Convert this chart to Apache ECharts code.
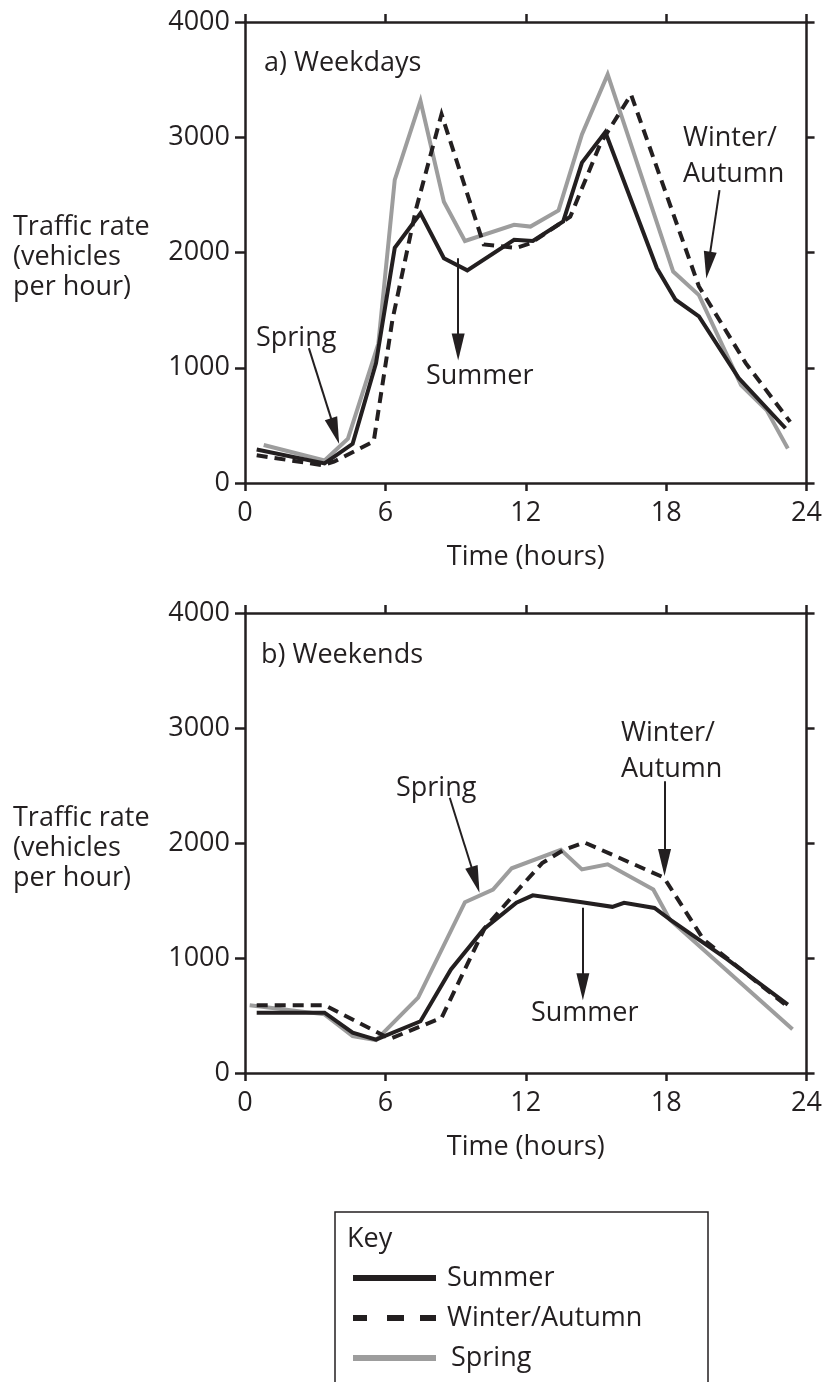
<!DOCTYPE html>
<html>
<head>
<meta charset="utf-8">
<script src="https://cdn.jsdelivr.net/npm/echarts@6/dist/echarts.min.js"></script>
<style>
html,body{margin:0;padding:0;background:#fff;}
#c{width:825px;height:1382px;}
</style>
</head>
<body>
<div id="c"></div>
<script>
// ---- data: [hour, vehicles per hour] ----
var weekdaySummer = [[0.5,290],[3.4,170],[4.6,340],[5.6,1040],[6.4,2040],[7.5,2340],[8.5,1950],[9.5,1845],[11.5,2110],[12.3,2100],[13.6,2270],[14.4,2780],[15.4,3045],[17.6,1865],[18.4,1590],[19.4,1445],[21.1,910],[23.1,475]];
var weekdayWinter = [[0.5,240],[3.3,155],[3.8,185],[5.5,360],[6.3,1415],[7.3,2370],[8.4,3200],[10.2,2070],[11.6,2040],[12.2,2080],[13.9,2310],[15.2,2950],[16.5,3370],[19.4,1705],[21.4,1040],[23.3,530]];
var weekdaySpring = [[0.8,330],[3.4,195],[4.4,385],[5.7,1210],[6.4,2630],[7.5,3315],[8.5,2440],[9.4,2100],[11.5,2240],[12.2,2225],[13.4,2365],[14.4,3025],[15.5,3545],[18.3,1835],[19.4,1630],[21.2,850],[22.3,630],[23.2,300]];

var weekendSummer = [[0.5,525],[3.4,525],[4.6,350],[5.6,290],[7.5,450],[8.8,900],[10.2,1250],[11.6,1480],[12.3,1545],[14.4,1485],[15.7,1445],[16.2,1480],[17.5,1435],[18.2,1330],[20.6,990],[23.2,595]];
var weekendWinter = [[0.5,590],[3.4,590],[6.2,297],[8.4,480],[10.25,1262],[11.7,1600],[12.7,1825],[13.6,1937],[14.5,2005],[17.9,1700],[19.6,1160],[23.3,560]];
var weekendSpring = [[0.2,590],[3.4,510],[4.6,320],[5.6,285],[7.4,655],[9.4,1485],[10.6,1595],[11.4,1780],[13.5,1940],[14.4,1770],[15.5,1815],[17.45,1595],[18.15,1335],[23.4,380]];

var hourTicks = [0, 6, 12, 18, 24];
var rateTicks = [0, 1000, 2000, 3000, 4000];
var seriesNames = ['Summer', 'Winter/Autumn', 'Spring'];

// annotation arrows in data coords: [from, to]
var arrowsTop = [[[2.73,1170],[3.85,450]], [[9.11,1950],[9.11,1180]], [[20.28,2541],[19.8,1890]]];
var arrowsBottom = [[[8.75,2393],[9.85,1680]], [[17.93,2537],[17.93,1830]], [[14.44,1437],[14.44,750]]];

var INK = '#231f20', GREY = '#9d9d9d';
var FONT = 'Open Sans';
var FS = 27;

function plain(v) { return String(v); }

function xAxes(gi) {
  return [{
    type: 'value', gridIndex: gi, min: hourTicks[0], max: hourTicks[hourTicks.length-1], interval: 6,
    position: 'bottom',
    axisLine: {onZero: false, lineStyle: {color: INK, width: 2.5}},
    axisTick: {length: 8, lineStyle: {color: INK, width: 2.5}},
    axisLabel: {color: INK, fontFamily: FONT, fontSize: FS, margin: 17, formatter: plain},
    splitLine: {show: false},
    name: 'Time (hours)', nameLocation: 'middle', nameGap: 61,
    nameTextStyle: {color: INK, fontFamily: FONT, fontSize: FS}
  }, {
    type: 'value', gridIndex: gi, min: 0, max: 24, interval: 6, position: 'top',
    axisLine: {show: true, onZero: false, lineStyle: {color: INK, width: 2.5}},
    axisTick: {show: true, length: 8, lineStyle: {color: INK, width: 2.5}},
    axisLabel: {show: false}, splitLine: {show: false}
  }];
}
function yAxes(gi) {
  return [{
    type: 'value', gridIndex: gi, min: rateTicks[0], max: rateTicks[rateTicks.length-1], interval: 1000,
    position: 'left',
    axisLine: {show: true, onZero: false, lineStyle: {color: INK, width: 2.5}},
    axisTick: {show: true, length: 10, lineStyle: {color: INK, width: 2.5}},
    axisLabel: {color: INK, fontFamily: FONT, fontSize: FS, margin: 15, formatter: plain},
    splitLine: {show: false}
  }, {
    type: 'value', gridIndex: gi, min: 0, max: 4000, interval: 1000, position: 'right',
    axisLine: {show: true, onZero: false, lineStyle: {color: INK, width: 2.5}},
    axisTick: {show: true, length: 8, lineStyle: {color: INK, width: 2.5}},
    axisLabel: {show: false}, splitLine: {show: false}
  }];
}

function lineSeries(name, data, axisBase, style, z) {
  return {
    name: name, type: 'line', data: data, xAxisIndex: axisBase, yAxisIndex: axisBase,
    showSymbol: false, symbol: 'none', z: z, silent: true, animation: false,
    itemStyle: {color: style.color},
    lineStyle: style
  };
}
var styleSummer = {color: INK, width: 4, type: 'solid', join: 'miter'};
var styleWinter = {color: INK, width: 4, type: [11, 7], join: 'miter'};
var styleSpring = {color: GREY, width: 4, type: 'solid', join: 'miter'};

function arrowMarkLine(arrows) {
  return {
    silent: true, animation: false,
    symbol: ['none', 'triangle'],
    symbolSize: [1, 1],
    label: {show: false},
    lineStyle: {color: INK, width: 2, type: 'solid'},
    data: arrows.map(function (a) {
      return [{coord: a[0], symbol: 'none'}, {coord: a[1], symbol: 'triangle', symbolSize: [13, 27]}];
    })
  };
}

var series = [
  lineSeries(seriesNames[2], weekdaySpring, 0, styleSpring, 2),
  lineSeries(seriesNames[1], weekdayWinter, 0, styleWinter, 3),
  lineSeries(seriesNames[0], weekdaySummer, 0, styleSummer, 4),
  lineSeries(seriesNames[2], weekendSpring, 2, styleSpring, 2),
  lineSeries(seriesNames[1], weekendWinter, 2, styleWinter, 3),
  lineSeries(seriesNames[0], weekendSummer, 2, styleSummer, 4)
];
series[2].markLine = arrowMarkLine(arrowsTop);
series[5].markLine = arrowMarkLine(arrowsBottom);

function txt(t, x, y) {
  return {type: 'text', left: x, top: y - 13, silent: true,
    style: {text: t, fill: INK, font: FS + 'px "' + FONT + '"'}};
}
function ytitle(y0) {
  return {type: 'text', left: 13, top: y0, silent: true,
    style: {text: 'Traffic rate\n(vehicles\nper hour)', fill: INK, font: FS + 'px "' + FONT + '"', lineHeight: 30}};
}

var solidIcon = 'path://M0,0H83V6H0Z';
var dashIcon = 'path://M0,0H14V6H0Z M34,0H51V6H34Z M67,0H83V6H67Z';

var chart = echarts.init(document.getElementById('c'), null, {renderer: 'canvas'});
chart.setOption({
  backgroundColor: '#fff',
  animation: false,
  grid: [
    {left: 245, top: 22, width: 562, height: 461},
    {left: 245, top: 613, width: 562, height: 460}
  ],
  xAxis: xAxes(0).concat(xAxes(1)),
  yAxis: yAxes(0).concat(yAxes(1)),
  legend: {
    show: true, orient: 'vertical', left: 348, top: 1258,
    itemWidth: 83, itemHeight: 6, itemGap: 10,
    textStyle: {color: INK, fontFamily: FONT, fontSize: FS, lineHeight: 30, padding: [0, 0, 0, 6]},
    data: [
      {name: seriesNames[0], icon: solidIcon, itemStyle: {color: INK}},
      {name: seriesNames[1], icon: dashIcon, itemStyle: {color: INK}},
      {name: seriesNames[2], icon: solidIcon, itemStyle: {color: GREY}, textStyle: {padding: [0, 0, 0, 10]}}
    ],
    selectedMode: false
  },
  graphic: [
    ytitle(212), ytitle(803),
    txt('a) Weekdays', 264, 63),
    txt('Spring', 256, 338),
    txt('Summer', 426, 376),
    txt('Winter/', 683, 138),
    txt('Autumn', 683, 174),
    txt('b) Weekends', 261, 655),
    txt('Spring', 396, 788),
    txt('Winter/', 621, 733),
    txt('Autumn', 621, 769),
    txt('Summer', 531, 1013),
    {type: 'rect', silent: true, shape: {x: 335, y: 1212, width: 373, height: 220},
      style: {fill: 'none', stroke: INK, lineWidth: 1.5}},
    txt('Key', 347, 1239)
  ],
  series: series
});
</script>
</body>
</html>
